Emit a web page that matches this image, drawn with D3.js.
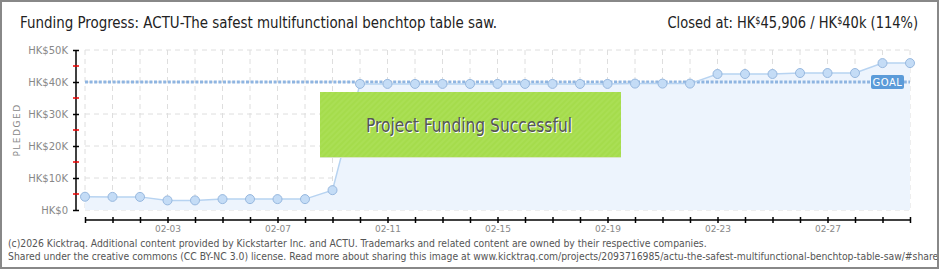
<!DOCTYPE html>
<html>
<head>
<meta charset="utf-8">
<script src="https://cdn.jsdelivr.net/npm/d3@7"></script>
<style>
  html, body { margin: 0; padding: 0; background: #fff; }
  svg { display: block; }
</style>
</head>
<body>
<div id="chart"></div>
<script>
// chart data
const days = ['01-31', '02-01', '02-02', '02-03', '02-04', '02-05', '02-06', '02-07',
  '02-08', '02-09', '02-10', '02-11', '02-12', '02-13', '02-14', '02-15', '02-16',
  '02-17', '02-18', '02-19', '02-20', '02-21', '02-22', '02-23', '02-24', '02-25',
  '02-26', '02-27', '02-28', '03-01', '03-02'];
const pledged = [4150, 4100, 4100, 3000, 3000, 3400, 3400, 3400, 3400, 6200,
  39400, 39400, 39400, 39400, 39400, 39400, 39400, 39400, 39400, 39400,
  39500, 39500, 39500, 42500, 42500, 42500, 42800, 42800, 42800, 45906, 45906];
const dayLabels = ['02-03', '02-07', '02-11', '02-15', '02-19', '02-23', '02-27'];
const yTicks = [0, 10000, 20000, 30000, 40000, 50000];
const yMinorTicks = [5000, 15000, 25000, 35000, 45000];
const goal = 40000;

const W = 940, H = 270;
const narrow = '"DejaVu Sans Condensed", "Liberation Sans Narrow", sans-serif';

const svg = d3.select('#chart').append('svg')
  .attr('width', W)
  .attr('height', H);

const defs = svg.append('defs');
const stripes = defs.append('pattern')
  .attr('id', 'stripes')
  .attr('width', 4)
  .attr('height', 4)
  .attr('patternUnits', 'userSpaceOnUse')
  .attr('patternTransform', 'rotate(45)');
stripes.append('rect').attr('width', 4).attr('height', 4).attr('fill', '#a5dc4c');
stripes.append('rect').attr('width', 2).attr('height', 4).attr('fill', '#aadf55');

// scales
const x = d3.scalePoint().domain(days).range([85, 910]);
const y = d3.scaleLinear().domain([0, 50000]).range([210, 50]);

// grid
svg.append('g').selectAll('line')
  .data(days)
  .enter()
  .append('line')
  .attr('x1', d => x(d)).attr('x2', d => x(d))
  .attr('y1', y(50000)).attr('y2', y(0))
  .style('stroke', '#dedede')
  .style('stroke-dasharray', '5,4');

svg.append('g').selectAll('line')
  .data(yTicks)
  .enter()
  .append('line')
  .attr('x1', 85).attr('x2', 910)
  .attr('y1', d => y(d)).attr('y2', d => y(d))
  .style('stroke', '#dedede')
  .style('stroke-dasharray', '5,4');

// area + line
const pts = days.map((d, i) => ({ day: d, v: pledged[i] }));

svg.append('path')
  .datum(pts)
  .attr('d', d3.area().x(d => x(d.day)).y0(y(0)).y1(d => y(d.v)))
  .style('fill', '#edf4fd');

// goal line
svg.append('line')
  .attr('x1', 85).attr('x2', 910)
  .attr('y1', y(goal)).attr('y2', y(goal))
  .style('stroke', '#8fb5e1')
  .style('stroke-width', 3)
  .style('stroke-dasharray', '3,1.6');

svg.append('path')
  .datum(pts)
  .attr('d', d3.line().x(d => x(d.day)).y(d => y(d.v)))
  .style('fill', 'none')
  .style('stroke', '#b7d3f1')
  .style('stroke-width', 1.5);

svg.append('g').selectAll('circle')
  .data(pts)
  .enter()
  .append('circle')
  .attr('cx', d => x(d.day))
  .attr('cy', d => y(d.v))
  .attr('r', 4.5)
  .style('fill', '#c4dcf6')
  .style('stroke', '#97b8df')
  .style('stroke-width', 1);

// goal tag
const goalG = svg.append('g')
  .attr('transform', 'translate(871,' + (y(goal) - 7) + ')');
goalG.append('rect')
  .attr('width', 33).attr('height', 14).attr('rx', 2)
  .style('fill', '#5b9bd9');
goalG.append('text')
  .attr('x', 16.5).attr('y', 11)
  .attr('text-anchor', 'middle')
  .style('font-family', 'DejaVu Sans')
  .style('font-size', '10px')
  .style('letter-spacing', '0.5px')
  .style('fill', '#fff')
  .text('GOAL');

// success banner
svg.append('rect')
  .attr('x', 320).attr('y', 92)
  .attr('width', 301).attr('height', 66)
  .style('fill', 'url(#stripes)');
svg.append('line')
  .attr('x1', 320).attr('x2', 621)
  .attr('y1', 157.5).attr('y2', 157.5)
  .style('stroke', '#d9e6c4');
[['#fff', 367, 133], ['#555', 366, 132]].forEach(([c, tx, ty]) => {
  svg.append('text')
    .attr('x', tx).attr('y', ty)
    .attr('textLength', 206)
    .attr('lengthAdjust', 'spacingAndGlyphs')
    .style('font-family', narrow)
    .style('font-size', '19px')
    .style('fill', c)
    .text('Project Funding Successful');
});

// y axis
const yAxis = d3.axisLeft(y).tickValues(yTicks).tickSize(6).tickPadding(5)
  .tickFormat(d => d === 0 ? 'HK$0' : 'HK$' + d / 1000 + 'K');
const gY = svg.append('g')
  .attr('transform', 'translate(76,0)')
  .call(yAxis);
gY.select('.domain').remove();
gY.append('line').attr('y1', y(50000)).attr('y2', y(0)).style('stroke', '#000').style('stroke-width', 1.5);
gY.selectAll('.tick line').attr('x1', 3).attr('x2', -3).style('stroke', '#000').style('stroke-width', 1.5);
gY.selectAll('.tick text')
  .attr('x', -8)
  .style('font-family', 'DejaVu Sans')
  .style('font-size', '10px')
  .style('fill', '#888');
gY.selectAll('.minor')
  .data(yMinorTicks)
  .enter()
  .append('line')
  .attr('x1', -3).attr('x2', 3)
  .attr('y1', d => y(d)).attr('y2', d => y(d))
  .style('stroke', '#e00')
  .style('stroke-width', 1.5);

svg.append('text')
  .attr('transform', 'translate(20,130) rotate(-90)')
  .attr('text-anchor', 'middle')
  .style('font-family', 'DejaVu Sans')
  .style('font-size', '9px')
  .style('letter-spacing', '1.5px')
  .style('fill', '#888')
  .text('PLEDGED');

// x axis
const xAxis = d3.axisBottom(x).tickSize(3).tickPadding(4)
  .tickFormat(d => dayLabels.includes(d) ? d : '');
const gX = svg.append('g')
  .attr('transform', 'translate(0,220)')
  .call(xAxis);
gX.select('.domain').attr('d', 'M85,0H910').style('stroke', '#000').style('stroke-width', 1.5);
gX.selectAll('.tick line').attr('y1', -3).attr('y2', 3).style('stroke', '#000').style('stroke-width', 1.5);
gX.selectAll('.tick text')
  .attr('y', 6)
  .style('font-family', 'DejaVu Sans')
  .style('font-size', '9px')
  .style('fill', '#888');

// title
svg.append('text')
  .attr('x', 20).attr('y', 28)
  .attr('textLength', 477)
  .attr('lengthAdjust', 'spacingAndGlyphs')
  .style('font-family', narrow)
  .style('font-size', '16px')
  .style('fill', '#222')
  .text('Funding Progress: ACTU-The safest multifunctional benchtop table saw.');

// squeezed horizontally to match the narrow original lettering
const closed = svg.append('g')
  .attr('transform', 'translate(918,28) scale(0.906,1)')
  .append('text')
  .attr('text-anchor', 'end')
  .style('font-family', narrow)
  .style('font-size', '16px')
  .style('fill', '#222');
closed.append('tspan').text('Closed at:  HK');
closed.append('tspan').attr('dy', -4).style('font-size', '10px').text('$');
closed.append('tspan').attr('dy', 4).text('45,906 /  HK');
closed.append('tspan').attr('dy', -4).style('font-size', '10px').text('$');
closed.append('tspan').attr('dy', 4).text('40k (114%)');

// footer
const foot = svg.append('g')
  .style('font-family', narrow)
  .style('font-size', '10.3px')
  .style('fill', '#555');
foot.append('text').attr('x', 8).attr('y', 247)
  .text('(c)2026 Kicktraq. Additional content provided by Kickstarter Inc. and ACTU. Trademarks and related content are owned by their respective companies.');
foot.append('text').attr('x', 8).attr('y', 260)
  .text('Shared under the creative commons (CC BY-NC 3.0) license. Read more about sharing this image at www.kicktraq.com/projects/2093716985/actu-the-safest-multifunctional-benchtop-table-saw/#share');

// frame
svg.append('rect')
  .attr('x', 1).attr('y', 1)
  .attr('width', W - 3).attr('height', H - 3)
  .style('fill', 'none')
  .style('stroke', '#888')
  .style('stroke-width', 2);
</script>
</body>
</html>
